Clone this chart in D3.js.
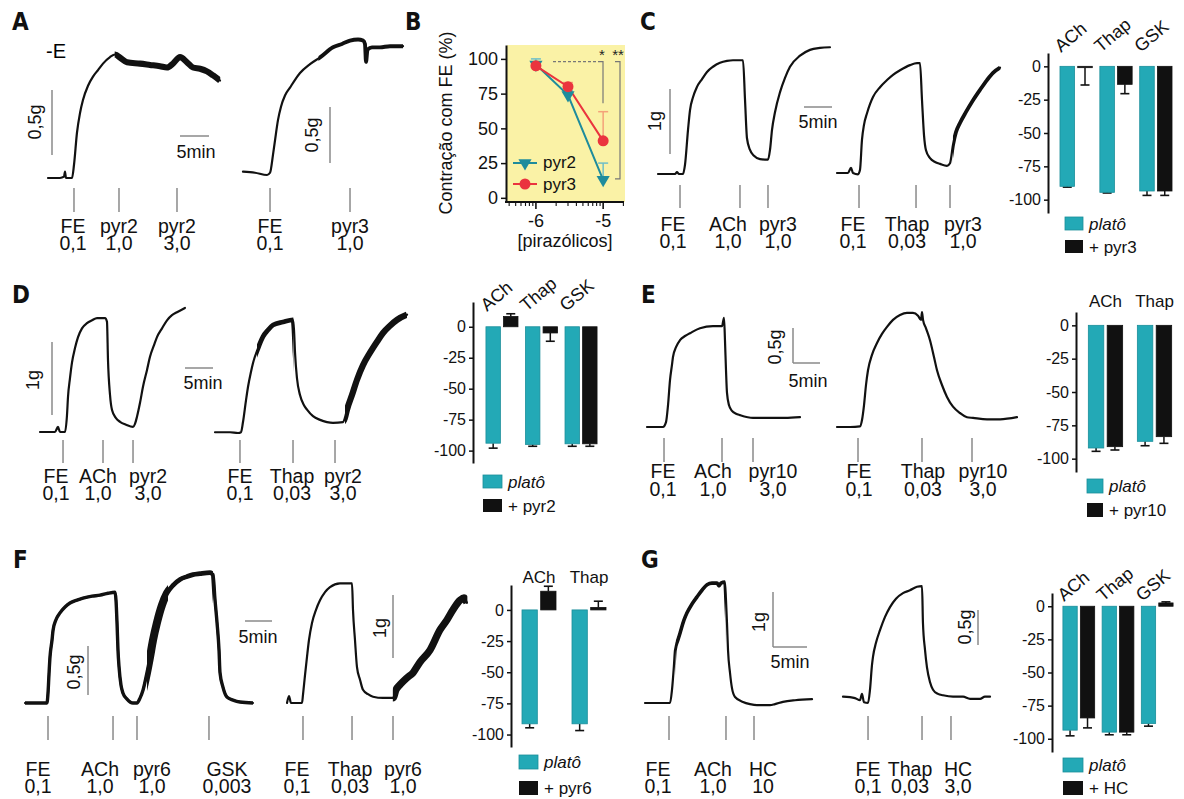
<!DOCTYPE html>
<html><head><meta charset="utf-8">
<script src="https://cdn.jsdelivr.net/npm/d3@7"></script>
<style>
html,body{margin:0;padding:0;background:#fff;}
svg{display:block;font-family:"Liberation Sans",Arial,Helvetica,sans-serif;}
</style></head><body>
<svg id="fig" width="1184" height="799"></svg>
<script>
// ===================== DATA =====================
// Tension traces: [time (min), tension above baseline (g)]
const traceA1 = [[0,0],[2.07,0],[2.76,0.01],[2.93,0.05],[3.10,0],[4.14,0],[4.48,0.10],[5.0,0.35],[5.52,0.50],[6.03,0.60],[6.90,0.71],[7.76,0.78],[8.62,0.83],[9.48,0.88],[10.69,0.93],[11.55,0.95],[12.59,0.92],[13.62,0.89],[15.86,0.88],[17.59,0.87],[19.31,0.86],[20.52,0.85],[21.55,0.88],[22.76,0.93],[23.97,0.89],[25.0,0.85],[26.21,0.84],[27.41,0.82],[28.45,0.79],[29.66,0.75]];
const traceA2 = [[0,0.03],[2.07,0.02],[4.14,0],[4.66,0.02],[5.17,0.18],[5.52,0.31],[6.03,0.49],[6.55,0.61],[7.24,0.71],[8.10,0.78],[8.97,0.85],[9.83,0.91],[11.55,0.99],[13.28,1.05],[15.52,1.14],[17.07,1.17],[18.45,1.20],[19.83,1.21],[20.69,1.20],[21.03,1.17],[21.21,1.01],[21.47,1.12],[22.24,1.14],[23.62,1.14],[25.34,1.15],[27.59,1.15]];
const traceC1 = [[0,0],[3.04,0],[3.39,0.03],[3.75,0],[4.46,0],[4.82,0.14],[5.36,0.68],[5.71,0.98],[6.25,1.18],[6.96,1.34],[7.86,1.46],[8.75,1.57],[9.82,1.65],[11.07,1.71],[12.32,1.74],[13.39,1.75],[15.18,1.75],[15.54,1.14],[15.89,0.55],[16.43,0.37],[17.14,0.28],[18.21,0.23],[19.64,0.22],[20.0,0.37],[20.36,0.68],[20.89,0.95],[21.79,1.26],[22.68,1.48],[23.57,1.65],[25.36,1.82],[27.14,1.91],[28.93,1.94],[30.71,1.95]];
const traceC2 = [[0,0],[1.96,0],[2.5,0.08],[2.86,0],[3.75,-0.02],[4.11,0.05],[4.46,0.51],[4.82,0.74],[5.36,0.92],[5.89,1.06],[6.43,1.17],[7.68,1.32],[8.93,1.43],[10.0,1.51],[11.25,1.58],[13.04,1.66],[14.29,1.69],[14.82,1.69],[15.18,1.12],[15.54,0.58],[15.89,0.35],[16.61,0.23],[17.5,0.17],[18.39,0.14],[19.64,0.11],[20.18,0.15],[20.71,0.43],[21.25,0.63],[21.96,0.77],[23.04,0.94],[24.29,1.12],[25.54,1.28],[26.79,1.43],[27.86,1.54],[29.11,1.62]];
const traceD1 = [[0,0],[2.68,0],[3.21,0.07],[3.57,0],[4.46,0],[4.82,0.23],[5.0,0.48],[5.36,0.74],[5.71,0.95],[6.25,1.15],[6.79,1.30],[7.5,1.42],[8.39,1.49],[9.29,1.53],[10.18,1.56],[11.61,1.56],[11.96,1.51],[12.14,0.99],[12.5,0.51],[12.86,0.30],[13.57,0.19],[14.29,0.14],[15.36,0.10],[16.61,0.07],[16.96,0.11],[17.32,0.21],[17.86,0.40],[18.39,0.62],[19.11,0.85],[19.64,1.03],[20.36,1.19],[20.89,1.30],[21.79,1.42],[22.68,1.53],[23.57,1.60],[24.46,1.64],[25.89,1.70]];
const traceD2 = [[0,0.01],[2.68,0.01],[4.11,0],[4.64,0.01],[5.0,0.15],[5.54,0.45],[5.89,0.63],[6.43,0.84],[6.79,0.96],[7.68,1.16],[8.57,1.32],[9.46,1.41],[10.36,1.48],[12.14,1.52],[13.93,1.55],[14.11,1.41],[14.29,1.10],[14.64,0.75],[15.18,0.52],[15.89,0.38],[16.43,0.32],[17.5,0.23],[18.75,0.18],[20.0,0.15],[21.07,0.14],[22.86,0.15],[23.21,0.21],[23.57,0.32],[24.46,0.52],[25.36,0.73],[26.43,0.93],[27.68,1.10],[28.93,1.25],[30.0,1.37],[31.25,1.47],[32.5,1.55],[34.29,1.62]];
const traceE1 = [[0,0],[2.41,0],[2.96,0],[3.52,0.07],[3.89,0.31],[4.26,0.67],[4.63,0.89],[4.81,1.0],[5.37,1.14],[6.11,1.24],[7.04,1.30],[7.96,1.34],[9.81,1.41],[12.22,1.44],[13.89,1.44],[14.26,1.56],[14.44,1.24],[14.63,0.81],[14.81,0.49],[15.19,0.31],[15.74,0.23],[16.48,0.19],[17.22,0.17],[19.63,0.13],[22.78,0.13],[25.56,0.13],[28.33,0.14]];
const traceE2 = [[0,0],[2.41,0],[4.26,0.01],[4.63,0.10],[5.0,0.31],[5.37,0.60],[5.74,0.81],[6.48,1.03],[7.41,1.20],[8.33,1.33],[9.26,1.43],[10.37,1.53],[11.67,1.60],[12.96,1.63],[14.07,1.63],[15.0,1.59],[15.56,1.53],[15.74,1.64],[15.93,1.53],[16.48,1.41],[17.22,1.24],[17.96,1.0],[18.52,0.81],[19.44,0.60],[20.37,0.43],[21.48,0.29],[22.78,0.20],[24.07,0.14],[25.19,0.13],[27.78,0.11],[30.19,0.11],[33.33,0.14]];
const traceF1 = [[0,0],[2.78,0],[4.07,0],[4.26,0.10],[4.44,0.29],[4.63,0.47],[5.0,0.64],[5.19,0.74],[5.74,0.85],[6.48,0.92],[7.41,0.98],[8.33,1.02],[9.63,1.05],[10.74,1.07],[12.41,1.09],[13.89,1.10],[15.37,1.12],[16.67,1.13],[16.85,1.05],[17.04,0.82],[17.22,0.54],[17.41,0.37],[17.78,0.18],[18.15,0.10],[18.89,0.04],[20.0,0],[20.74,0],[21.3,0.05],[21.85,0.13],[22.59,0.31],[23.15,0.47],[23.7,0.64],[24.44,0.82],[25.37,1.0],[26.3,1.12],[27.41,1.20],[28.7,1.26],[30.0,1.29],[31.11,1.31],[32.41,1.32],[34.26,1.33],[34.81,1.31],[35.19,1.05],[35.56,0.82],[35.93,0.54],[36.11,0.31],[36.67,0.16],[37.41,0.06],[38.52,0.03],[39.81,0.01],[42.22,0]];
const traceF2 = [[0,0],[0.37,0.11],[0.74,0],[2.78,0],[2.96,0.13],[3.33,0.44],[3.70,0.73],[4.07,1.0],[4.63,1.27],[5.37,1.48],[6.11,1.63],[7.04,1.76],[7.96,1.84],[9.81,1.90],[12.04,1.90],[12.22,1.48],[12.59,1.0],[12.96,0.57],[13.52,0.37],[14.07,0.21],[15.0,0.14],[15.93,0.10],[17.78,0.08],[19.63,0.08],[20.19,0.21],[20.93,0.29],[22.22,0.40],[23.33,0.48],[24.63,0.65],[26.48,0.84],[28.33,1.16],[29.63,1.32],[30.74,1.48],[32.04,1.63],[32.78,1.67],[33.33,1.59]];
const traceG1 = [[0,0],[2.21,0],[3.68,0],[3.97,0.24],[4.26,0.69],[4.41,0.96],[4.85,1.15],[5.15,1.27],[5.74,1.51],[6.18,1.64],[6.91,1.80],[7.65,1.93],[8.38,2.05],[9.12,2.15],[9.85,2.18],[10.59,2.18],[10.88,2.13],[11.18,2.18],[11.76,2.20],[11.91,1.87],[12.06,1.45],[12.21,0.96],[12.5,0.55],[12.79,0.27],[13.24,0.11],[14.41,0.02],[15.44,-0.02],[16.47,-0.04],[18.38,-0.04],[19.12,-0.02],[20.29,0.02],[22.06,0.05],[24.56,0.07]];
const traceG2 = [[0,0.09],[1.76,0.07],[2.5,0.04],[2.79,0.13],[3.09,0.01],[3.68,0],[3.97,0.19],[4.26,0.54],[4.41,0.66],[4.85,0.86],[5.44,1.04],[6.18,1.23],[6.91,1.37],[7.79,1.49],[8.82,1.57],[9.85,1.61],[10.88,1.66],[11.62,1.67],[11.76,1.14],[12.06,0.76],[12.35,0.51],[12.79,0.30],[13.24,0.19],[13.97,0.13],[14.71,0.11],[16.18,0.09],[17.65,0.09],[18.68,0.06],[20.15,0.06],[20.88,0.09],[21.62,0.09]];

// Noisy stretches: [t start, t end, peak-to-peak amplitude (g)]
const noiseA1 = [[11.5,29.7,0.03]];
const noiseA2 = [[13,27.6,0.015]];
const noiseC2 = [[20.7,29.2,0.025]];
const noiseD2 = [[7.5,14.0,0.035],[23.2,34.3,0.055]];
const noiseF1 = [[0,42.2,0.012],[22.6,26.5,0.06],[26.5,34.8,0.025]];
const noiseF2 = [[19.6,33.4,0.08]];
const noiseG1 = [[4.5,11.8,0.025]];

// Drug additions: [drug, concentration, time (min)]
const eventsA1 = [["FE","0,1",4.48],["pyr2","1,0",12.24],["pyr2","3,0",22.24]];
const eventsA2 = [["FE","0,1",4.66],["pyr3","1,0",18.45]];
const eventsC1 = [["FE","0,1",3.93],["ACh","1,0",14.64],["pyr3","1,0",19.64]];
const eventsC2 = [["FE","0,1",3.93],["Thap","0,03",14.11],["pyr3","1,0",20.18]];
const eventsD1 = [["FE","0,1",4.11],["ACh","1,0",11.25],["pyr2","3,0",16.61]];
const eventsD2 = [["FE","0,1",4.46],["Thap","0,03",13.93],["pyr2","3,0",21.43]];
const eventsE1 = [["FE","0,1",3.15],["ACh","1,0",13.89],["pyr10","3,0",19.63]];
const eventsE2 = [["FE","0,1",3.89],["Thap","0,03",15.74],["pyr10","3,0",25.0]];
const eventsF1 = [["FE","0,1",4.26],["ACh","1,0",16.3],["pyr6","1,0",20.74],["GSK","0,003",34.07]];
const eventsF2 = [["FE","0,1",2.96],["Thap","0,03",12.04],["pyr6","1,0",19.63]];
const eventsG1 = [["FE","0,1",3.53],["ACh","1,0",11.91],["HC","10",16.03]];
const eventsG2 = [["FE","0,1",3.68],["Thap","0,03",11.62],["HC","3,0",15.88]];

// Panel B: concentration-response
const concB = [1e-6, 3e-6, 1e-5];
const pyr2B = [96, 74, 13];
const pyr2ErrB = [4, 3, 12];
const pyr3B = [95, 80, 41];
const pyr3ErrB = [2, 3, 21];
const yTicksB = [0, 25, 50, 75, 100];
const xTicksB = [1e-6, 1e-5];
const xTickLabelsB = ["-6", "-5"];

// Bar charts (% relaxation of plateau)
const barTicks = [0, -25, -50, -75, -100];
const catsC = ["ACh","Thap","GSK"];
const platoC = [-90, -94.5, -93.5];
const platoErrC = [0.6, 0.5, 3.3];
const pyr3C = [-1, -13.5, -93.5];
const pyr3ErrC = [13, 7, 3.3];
const catsD = ["ACh","Thap","GSK"];
const platoD = [-94, -95, -94.5];
const platoErrD = [4, 1.5, 2];
const pyr2D = [8.3, -5, -94.5];
const pyr2ErrD = [2.2, 6.7, 2];
const catsE = ["ACh","Thap"];
const platoE = [-92, -87];
const platoErrE = [2.5, 3.3];
const pyr10E = [-91, -83.5];
const pyr10ErrE = [2.5, 5];
const catsF = ["ACh","Thap"];
const platoF = [-91.4, -91.4];
const platoErrF = [3.2, 5.4];
const pyr6F = [15, 2];
const pyr6ErrF = [4, 5];
const catsG = ["ACh","Thap","GSK"];
const platoG = [-93.5, -95, -88.5];
const platoErrG = [4.3, 2, 2];
const hcG = [-84.3, -95, 2.5];
const hcErrG = [7.5, 2, 0.8];

// ===================== STYLE / LAYOUT =====================
const TEAL = "#23a9b6", TEAL_EDGE = "#1a8e9a", BLACK = "#111111";
const LINE2 = "#1e8c9c", LINE3 = "#ea343e";
const GRAY = "#8a8a8a";
const svg = d3.select("#fig");

const letters = [["A",12,30],["B",405,30],["C",640,30],["D",12,303],["E",641,303],["F",13,568],["G",641,568]];
letters.forEach(l => svg.append("text").attr("x", l[1]).attr("y", l[2]).text(l[0])
  .attr("font-family", '"Liberation Sans Narrow","DejaVu Sans Condensed",sans-serif')
  .attr("font-weight", "bold").attr("font-size", 24).attr("fill", "#111"));

svg.append("text").attr("x", 46).attr("y", 58).attr("font-size", 20).text("-E");

const traces = [
 {data:traceA1, ev:eventsA1, x0:48,  y0:178, ppm:5.8, pxg:130, mk:[188,212], rows:[233,250], dx:[-1,0,0], noise:noiseA1},
 {data:traceA2, ev:eventsA2, x0:243, y0:175, ppm:5.8, pxg:112, mk:[188,212], rows:[233,250], dx:[0,0], noise:noiseA2},
 {data:traceC1, ev:eventsC1, x0:658, y0:174, ppm:5.6, pxg:65,  mk:[185,208], rows:[231,248], dx:[-7,-12,10]},
 {data:traceC2, ev:eventsC2, x0:837, y0:173, ppm:5.6, pxg:65,  mk:[185,208], rows:[231,248], dx:[-6,-9,13], noise:noiseC2},
 {data:traceD1, ev:eventsD1, x0:40,  y0:432, ppm:5.6, pxg:73,  mk:[440,463], rows:[483,500], dx:[-7,-5,15]},
 {data:traceD2, ev:eventsD2, x0:215, y0:433, ppm:5.6, pxg:73,  mk:[440,463], rows:[483,500], dx:[0,-1,8], noise:noiseD2},
 {data:traceE1, ev:eventsE1, x0:647, y0:427, ppm:5.4, pxg:70,  mk:[438,462], rows:[478,496], dx:[-1,-9,20]},
 {data:traceE2, ev:eventsE2, x0:837, y0:427, ppm:5.4, pxg:70,  mk:[438,462], rows:[478,496], dx:[1,1,11]},
 {data:traceF1, ev:eventsF1, x0:25,  y0:703, ppm:5.4, pxg:98,  mk:[716,740], rows:[776,793], dx:[-10,-13,15,18], noise:noiseF1},
 {data:traceF2, ev:eventsF2, x0:287, y0:703, ppm:5.4, pxg:63,  mk:[716,740], rows:[776,793], dx:[-6,-2,10], noise:noiseF2},
 {data:traceG1, ev:eventsG1, x0:645, y0:703, ppm:6.8, pxg:55,  mk:[716,740], rows:[776,793], dx:[-11,-13,9], noise:noiseG1},
 {data:traceG2, ev:eventsG2, x0:843, y0:703, ppm:6.8, pxg:70,  mk:[716,740], rows:[776,793], dx:[0,-12,7]}
];

let clipId = 0;
traces.forEach(cfg => {
  const x = d3.scaleLinear().domain([0, 1]).range([cfg.x0, cfg.x0 + cfg.ppm]);
  const y = d3.scaleLinear().domain([0, 1]).range([cfg.y0, cfg.y0 - cfg.pxg]);
  cfg.x = x; cfg.y = y;
  const line = d3.line().x(d => x(d[0])).y(d => y(d[1])).curve(d3.curveMonotoneX);
  const d = line(cfg.data);
  svg.append("path").attr("d", d).attr("fill", "none").attr("stroke", BLACK)
    .attr("stroke-width", 2.2).attr("stroke-linejoin", "round").attr("stroke-linecap", "round");
  (cfg.noise || []).forEach(n => {
    const id = "clip" + (clipId++);
    svg.append("clipPath").attr("id", id).append("rect")
      .attr("x", x(n[0])).attr("y", 0).attr("width", x(n[1]) - x(n[0])).attr("height", 799);
    svg.append("path").attr("d", d).attr("fill", "none").attr("stroke", BLACK)
      .attr("stroke-width", 2.2 + n[2] * cfg.pxg).attr("stroke-linejoin", "round")
      .attr("clip-path", `url(#${id})`);
  });
  cfg.ev.forEach((e, i) => {
    const ex = x(e[2]);
    svg.append("line").attr("x1", ex).attr("x2", ex).attr("y1", cfg.mk[0]).attr("y2", cfg.mk[1])
      .attr("stroke", GRAY).attr("stroke-width", 1.5);
    const lx = ex + (cfg.dx ? cfg.dx[i] : 0);
    const t = svg.append("text").attr("x", lx).attr("y", cfg.rows[0]).attr("text-anchor", "middle")
      .attr("font-size", 19.5).attr("fill", "#111");
    t.append("tspan").attr("x", lx).attr("y", cfg.rows[0]).text(e[0]);
    t.append("tspan").attr("x", lx).attr("y", cfg.rows[1]).text(e[1]);
  });
});

// Calibration bars (drawn with each trace's scales)
const scaleBars = [
 {tr:0, kind:"v", amt:0.5, x:52,  y:155, text:"0,5g", tx:41,  ty:122},
 {tr:0, kind:"h", amt:5,   x:180, y:136, text:"5min", tx:196, ty:158},
 {tr:1, kind:"v", amt:0.5, x:330, y:163, text:"0,5g", tx:318, ty:135},
 {tr:2, kind:"v", amt:1,   x:670, y:154, text:"1g",   tx:661, ty:121},
 {tr:2, kind:"h", amt:5,   x:804, y:107, text:"5min", tx:818, ty:128},
 {tr:4, kind:"v", amt:1,   x:52,  y:415, text:"1g",   tx:39,  ty:380},
 {tr:4, kind:"h", amt:5,   x:185, y:368, text:"5min", tx:203, ty:389},
 {tr:6, kind:"v", amt:0.5, x:793, y:363, text:"0,5g", tx:781, ty:347},
 {tr:6, kind:"h", amt:5,   x:793, y:363, text:"5min", tx:808, ty:387},
 {tr:8, kind:"v", amt:0.5, x:88,  y:695, text:"0,5g", tx:80,  ty:672},
 {tr:8, kind:"h", amt:5,   x:245, y:621, text:"5min", tx:258, ty:643},
 {tr:9, kind:"v", amt:1,   x:393, y:658, text:"1g",   tx:386, ty:628},
 {tr:10,kind:"v", amt:1,   x:773, y:647, text:"1g",   tx:765, ty:622},
 {tr:10,kind:"h", amt:5,   x:773, y:647, text:"5min", tx:790, ty:668},
 {tr:11,kind:"v", amt:0.5, x:978, y:645, text:"0,5g", tx:971, ty:627}
];
scaleBars.forEach(b => {
  const t = traces[b.tr];
  if (b.kind === "v") {
    const len = t.y(0) - t.y(b.amt);
    svg.append("line").attr("x1", b.x).attr("x2", b.x).attr("y1", b.y).attr("y2", b.y - len)
      .attr("stroke", GRAY).attr("stroke-width", 1.5);
    svg.append("text").attr("transform", `translate(${b.tx},${b.ty}) rotate(-90)`)
      .attr("text-anchor", "middle").attr("font-size", 18).attr("fill", "#111").text(b.text);
  } else {
    const len = t.x(b.amt) - t.x(0);
    svg.append("line").attr("x1", b.x).attr("x2", b.x + len).attr("y1", b.y).attr("y2", b.y)
      .attr("stroke", GRAY).attr("stroke-width", 1.5);
    svg.append("text").attr("x", b.tx).attr("y", b.ty).attr("text-anchor", "middle")
      .attr("font-size", 18).attr("fill", "#111").text(b.text);
  }
});

// ===================== PANEL B =====================
(function(){
  const xB = d3.scaleLog().domain([Math.pow(10, -6.43), Math.pow(10, -4.69)]).range([507, 624]);
  const yB = d3.scaleLinear().domain([-3, 110]).range([202, 45]);
  svg.append("rect").attr("x", 507).attr("y", 45).attr("width", 118).attr("height", 157).attr("fill", "#faf2a6");
  const gy = svg.append("g").attr("transform", "translate(506,0)")
    .call(d3.axisLeft(yB).tickValues(yTicksB).tickSize(5).tickSizeOuter(0).tickPadding(3).tickFormat(d => String(d)));
  gy.select(".domain").attr("stroke", "#111").attr("stroke-width", 2);
  gy.selectAll(".tick line").attr("stroke", "#111").attr("stroke-width", 1.5);
  gy.selectAll(".tick text").attr("font-size", 18).attr("font-family", '"Liberation Sans",Arial,sans-serif').attr("fill", "#111");
  svg.append("line").attr("x1", 505).attr("x2", 624).attr("y1", 202).attr("y2", 202).attr("stroke", "#111").attr("stroke-width", 2);
  xB.ticks().forEach(t => {
    const lg = Math.log10(t);
    const major = Math.abs(lg - Math.round(lg)) < 1e-6;
    svg.append("line").attr("x1", xB(t)).attr("x2", xB(t)).attr("y1", 202).attr("y2", 202 + (major ? 7 : 4))
      .attr("stroke", "#111").attr("stroke-width", major ? 1.6 : 1.1);
  });
  xTicksB.forEach((t, i) => svg.append("text").attr("x", xB(t)).attr("y", 227).attr("text-anchor", "middle")
    .attr("font-size", 18).attr("fill", "#111").text(xTickLabelsB[i]));
  svg.append("text").attr("x", 565).attr("y", 247).attr("text-anchor", "middle").attr("font-size", 18).attr("fill", "#111").text("[pirazólicos]");
  svg.append("text").attr("transform", "translate(452,123) rotate(-90)").attr("text-anchor", "middle")
    .attr("font-size", 18).attr("fill", "#111").text("Contração com FE (%)");

  // significance
  const g1 = svg.append("g").attr("stroke", "#777").attr("stroke-width", 1.2).attr("fill", "none");
  g1.append("line").attr("x1", 553).attr("x2", 598).attr("y1", yB(98)).attr("y2", yB(98)).attr("stroke-dasharray", "3,2");
  g1.append("path").attr("d", `M598,${yB(98)}H603V${yB(68)}`);
  g1.append("path").attr("d", `M615,${yB(98)}H620V${yB(13.6)}H615`);
  svg.append("text").attr("x", 602).attr("y", 60).attr("text-anchor", "middle").attr("font-size", 15).attr("fill", "#222").text("*");
  svg.append("text").attr("x", 618).attr("y", 60).attr("text-anchor", "middle").attr("font-size", 15).attr("fill", "#222").text("**");

  // error bars
  const err = (vals, errs, col) => vals.forEach((v, i) => {
    const xx = xB(concB[i]), y1 = yB(v), y2 = yB(v + errs[i]);
    svg.append("line").attr("x1", xx).attr("x2", xx).attr("y1", y1).attr("y2", y2).attr("stroke", col).attr("stroke-width", 1.5);
    svg.append("line").attr("x1", xx - 5).attr("x2", xx + 5).attr("y1", y2).attr("y2", y2).attr("stroke", col).attr("stroke-width", 1.5);
  });
  err(pyr2B, pyr2ErrB, "#6fbfc8");
  err(pyr3B, pyr3ErrB, "#f4a27a");
  const lineB = vals => d3.line().x((d, i) => xB(concB[i])).y(d => yB(d))(vals);
  svg.append("path").attr("d", lineB(pyr2B)).attr("fill", "none").attr("stroke", LINE2).attr("stroke-width", 2);
  svg.append("path").attr("d", lineB(pyr3B)).attr("fill", "none").attr("stroke", LINE3).attr("stroke-width", 2);
  const tri = d3.symbol(d3.symbolTriangle, 75)();
  pyr2B.forEach((v, i) => svg.append("path").attr("d", tri)
    .attr("transform", `translate(${xB(concB[i])},${yB(v)}) rotate(180)`).attr("fill", LINE2));
  pyr3B.forEach((v, i) => svg.append("circle").attr("cx", xB(concB[i])).attr("cy", yB(v)).attr("r", 5.5).attr("fill", LINE3));
  // legend
  svg.append("line").attr("x1", 513).attr("x2", 537).attr("y1", 163).attr("y2", 163).attr("stroke", LINE2).attr("stroke-width", 2);
  svg.append("path").attr("d", tri).attr("transform", "translate(525,163) rotate(180)").attr("fill", LINE2);
  svg.append("text").attr("x", 543).attr("y", 168).attr("font-size", 17).attr("fill", "#111").text("pyr2");
  svg.append("line").attr("x1", 513).attr("x2", 537).attr("y1", 184).attr("y2", 184).attr("stroke", LINE3).attr("stroke-width", 2);
  svg.append("circle").attr("cx", 525).attr("cy", 184).attr("r", 5.5).attr("fill", LINE3);
  svg.append("text").attr("x", 543).attr("y", 190).attr("font-size", 17).attr("fill", "#111").text("pyr3");
})();

// ===================== BAR CHARTS =====================
const barPanels = [
 {cats:catsC, a:platoC, ae:platoErrC, b:pyr3C, be:pyr3ErrC, bName:"+ pyr3", axisX:1048, yDomain:[-110,10], yRange:[213,53],
  xRange:[1056,1176], padIn:0.19, padOut:0.1, rot:true, labY:53, leg:[1065,217,240,18,13]},
 {cats:catsD, a:platoD, ae:platoErrD, b:pyr2D, be:pyr2ErrD, bName:"+ pyr2", axisX:473, yDomain:[-110,20], yRange:[463,302],
  xRange:[482,601], padIn:0.19, padOut:0.1, rot:true, labY:312, leg:[483,475,499,19,13]},
 {cats:catsE, a:platoE, ae:platoErrE, b:pyr10E, be:pyr10ErrE, bName:"+ pyr10", axisX:1076, yDomain:[-110,10], yRange:[472,312],
  xRange:[1080,1180], padIn:0.3, padOut:0.17, rot:false, labY:307, leg:[1087,479,503,16,14]},
 {cats:catsF, a:platoF, ae:platoErrF, b:pyr6F, be:pyr6ErrF, bName:"+ pyr6", axisX:511, yDomain:[-110,20], yRange:[747,585],
  xRange:[514,614], padIn:0.32, padOut:0.16, rot:false, labY:583, leg:[519,755,781,19,14]},
 {cats:catsG, a:platoG, ae:platoErrG, b:hcG, be:hcErrG, bName:"+ HC", axisX:1052, yDomain:[-110,10], yRange:[752,593],
  xRange:[1059,1177], padIn:0.19, padOut:0.1, rot:true, labY:602, leg:[1063,758,781,20,14]}
];

barPanels.forEach(p => {
  const x0 = d3.scaleBand().domain(p.cats).range(p.xRange).paddingInner(p.padIn).paddingOuter(p.padOut);
  const x1 = d3.scaleBand().domain([0, 1]).range([0, x0.bandwidth()]).paddingInner(0.18);
  const y = d3.scaleLinear().domain(p.yDomain).range(p.yRange);
  const gA = svg.append("g").attr("transform", `translate(${p.axisX},0)`)
    .call(d3.axisLeft(y).tickValues(barTicks).tickSize(4).tickSizeOuter(0).tickPadding(3).tickFormat(d => String(d)));
  gA.select(".domain").attr("stroke", "#111").attr("stroke-width", 2);
  gA.selectAll(".tick line").attr("stroke", "#111").attr("stroke-width", 1.5);
  gA.selectAll(".tick text").attr("font-size", 16).attr("font-family", '"Liberation Sans",Arial,sans-serif').attr("fill", "#111");

  const series = [[p.a, p.ae, TEAL, TEAL_EDGE], [p.b, p.be, BLACK, BLACK]];
  series.forEach((s, si) => {
    p.cats.forEach((c, ci) => {
      const v = s[0][ci], e = s[1][ci];
      const bx = x0(c) + x1(si), bw = x1.bandwidth();
      const top = Math.min(y(v), y(0)), h = Math.max(Math.abs(y(v) - y(0)), 1.2);
      const ye = y(v + Math.sign(v) * e);
      svg.append("line").attr("x1", bx + bw / 2).attr("x2", bx + bw / 2).attr("y1", y(v)).attr("y2", ye)
        .attr("stroke", "#111").attr("stroke-width", 1.5);
      svg.append("line").attr("x1", bx + bw / 2 - 4.5).attr("x2", bx + bw / 2 + 4.5).attr("y1", ye).attr("y2", ye)
        .attr("stroke", "#111").attr("stroke-width", 1.6);
      svg.append("rect").attr("x", bx).attr("y", top).attr("width", bw).attr("height", h)
        .attr("fill", s[2]).attr("stroke", s[3]).attr("stroke-width", 0.8);
    });
  });
  p.cats.forEach(c => {
    if (p.rot) {
      svg.append("text").attr("transform", `translate(${x0(c) + 1},${p.labY}) rotate(-40)`)
        .attr("font-size", 18).attr("fill", "#111").text(c);
    } else {
      svg.append("text").attr("x", x0(c) + x0.bandwidth() / 2).attr("y", p.labY).attr("text-anchor", "middle")
        .attr("font-size", 17).attr("fill", "#111").text(c);
    }
  });
  const [lx, ly1, ly2, lw, lh] = p.leg;
  svg.append("rect").attr("x", lx).attr("y", ly1).attr("width", lw).attr("height", lh).attr("fill", TEAL).attr("stroke", TEAL_EDGE).attr("stroke-width", 0.8);
  svg.append("rect").attr("x", lx).attr("y", ly2).attr("width", lw).attr("height", lh).attr("fill", BLACK);
  svg.append("text").attr("x", lx + lw + 6).attr("y", ly1 + lh / 2 + 6).attr("font-size", 17).attr("font-style", "italic").attr("fill", "#111").text("platô");
  svg.append("text").attr("x", lx + lw + 6).attr("y", ly2 + lh / 2 + 6).attr("font-size", 17).attr("fill", "#111").text(p.bName);
});
</script></body></html>
